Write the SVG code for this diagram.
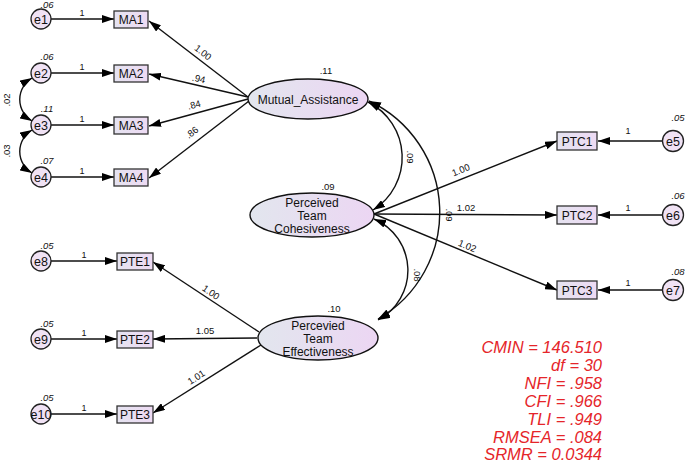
<svg xmlns="http://www.w3.org/2000/svg" width="685" height="464" viewBox="0 0 685 464">
<defs>
<linearGradient id="gEll" x1="0" y1="0" x2="1" y2="0">
<stop offset="0" stop-color="#e2e6ee"/>
<stop offset="1" stop-color="#ecd6f3"/>
</linearGradient>
<linearGradient id="gBox" x1="0" y1="0" x2="1" y2="0">
<stop offset="0" stop-color="#e5e3f0"/>
<stop offset="1" stop-color="#eddaf3"/>
</linearGradient>
<marker id="ah" viewBox="0 0 12 8" refX="12" refY="4" markerWidth="12" markerHeight="8" markerUnits="userSpaceOnUse" orient="auto-start-reverse">
<path d="M0,0 L12,4 L0,8 z" fill="#000"/>
</marker>
<style>
.t{font-family:"Liberation Sans",Arial,sans-serif;fill:#111}
.box{fill:url(#gBox);stroke:#333;stroke-width:1.3}
.ell{fill:url(#gEll);stroke:#111;stroke-width:1.4}
.cir{fill:#f0e2f4;stroke:#222;stroke-width:1.3}
.lbl{font-size:12px;text-anchor:middle}
.el{font-size:12.5px;text-anchor:middle}
.var{font-size:9.5px;font-style:italic;text-anchor:middle}
.one{font-size:9px;text-anchor:middle}
.w{font-size:9.5px;text-anchor:middle}
.ln{stroke:#111;stroke-width:1.4;fill:none}
.fit{font-family:"Liberation Sans",Arial,sans-serif;font-size:16.5px;font-style:italic;fill:#e5252a;text-anchor:end}
</style>
</defs>
<rect width="685" height="464" fill="#fff"/>

<g id="connectors">
<!-- error to indicator -->
<line class="ln" x1="51" y1="19" x2="114" y2="19" marker-end="url(#ah)"/>
<line class="ln" x1="51" y1="73" x2="114" y2="73" marker-end="url(#ah)"/>
<line class="ln" x1="51" y1="125" x2="114" y2="125" marker-end="url(#ah)"/>
<line class="ln" x1="51" y1="177" x2="114" y2="177" marker-end="url(#ah)"/>
<line class="ln" x1="51" y1="261" x2="117" y2="261" marker-end="url(#ah)"/>
<line class="ln" x1="51" y1="339" x2="117" y2="339" marker-end="url(#ah)"/>
<line class="ln" x1="51" y1="414" x2="117" y2="414" marker-end="url(#ah)"/>
<line class="ln" x1="663" y1="141" x2="598" y2="141" marker-end="url(#ah)"/>
<line class="ln" x1="663" y1="215" x2="598" y2="215" marker-end="url(#ah)"/>
<line class="ln" x1="663" y1="290" x2="598" y2="290" marker-end="url(#ah)"/>
<!-- loadings -->
<line class="ln" x1="248" y1="97" x2="149" y2="21" marker-end="url(#ah)"/>
<line class="ln" x1="248" y1="97" x2="149" y2="74" marker-end="url(#ah)"/>
<line class="ln" x1="248" y1="99" x2="149" y2="126" marker-end="url(#ah)"/>
<line class="ln" x1="249" y1="101" x2="149" y2="178" marker-end="url(#ah)"/>
<line class="ln" x1="374" y1="214" x2="557" y2="141" marker-end="url(#ah)"/>
<line class="ln" x1="374" y1="214" x2="557" y2="215" marker-end="url(#ah)"/>
<line class="ln" x1="374" y1="214" x2="557" y2="290" marker-end="url(#ah)"/>
<line class="ln" x1="259" y1="332" x2="153" y2="262" marker-end="url(#ah)"/>
<line class="ln" x1="257" y1="338" x2="153" y2="339" marker-end="url(#ah)"/>
<line class="ln" x1="261" y1="345" x2="153" y2="413" marker-end="url(#ah)"/>
<!-- covariances -->
<path class="ln" d="M32,78 A25,25 0 0 0 32,121" marker-start="url(#ah)" marker-end="url(#ah)"/>
<path class="ln" d="M32,130 A25,25 0 0 0 32,173" marker-start="url(#ah)" marker-end="url(#ah)"/>
<path class="ln" d="M368,102 A62,62 0 0 1 373,210" marker-start="url(#ah)" marker-end="url(#ah)"/>
<path class="ln" d="M369,101 A123,123 0 0 1 378,319" marker-start="url(#ah)" marker-end="url(#ah)"/>
<path class="ln" d="M374,219 A56,56 0 0 1 378,320" marker-start="url(#ah)" marker-end="url(#ah)"/>
<!-- labels -->
<text class="t one" x="82" y="16">1</text>
<text class="t one" x="82" y="70">1</text>
<text class="t one" x="82" y="122">1</text>
<text class="t one" x="82" y="174">1</text>
<text class="t one" x="84" y="258">1</text>
<text class="t one" x="84" y="336">1</text>
<text class="t one" x="84" y="411">1</text>
<text class="t one" x="628" y="134">1</text>
<text class="t one" x="628" y="211">1</text>
<text class="t one" x="628" y="286">1</text>
<text class="t w" transform="translate(201,55) rotate(38)">1.00</text>
<text class="t w" transform="translate(198,82) rotate(13)">.94</text>
<text class="t w" transform="translate(195,108) rotate(-15)">.84</text>
<text class="t w" transform="translate(194,135) rotate(-38)">.86</text>
<text class="t w" transform="translate(462,173) rotate(-22)">1.00</text>
<text class="t w" transform="translate(466,211)">1.02</text>
<text class="t w" transform="translate(466,249) rotate(22)">1.02</text>
<text class="t w" transform="translate(209,295) rotate(35)">1.00</text>
<text class="t w" transform="translate(205,334)">1.05</text>
<text class="t w" transform="translate(198,380) rotate(-33)">1.01</text>
<text class="t w" transform="translate(10,100) rotate(-90)">.02</text>
<text class="t w" transform="translate(10,151) rotate(-90)">.03</text>
<text class="t w" transform="translate(407,157) rotate(90)">.09</text>
<text class="t w" transform="translate(446,215) rotate(90)">.09</text>
<text class="t w" transform="translate(414,275) rotate(90)">.08</text>
</g>

<g id="e1"><circle class="cir" cx="41" cy="19" r="10"/><text class="t var" x="47" y="8">.06</text><text class="t el" x="41" y="23.5">e1</text></g>
<g id="e2"><circle class="cir" cx="41" cy="73" r="10"/><text class="t var" x="47" y="60">.06</text><text class="t el" x="41" y="77.5">e2</text></g>
<g id="e3"><circle class="cir" cx="41" cy="125" r="10"/><text class="t var" x="47" y="112">.11</text><text class="t el" x="41" y="129.5">e3</text></g>
<g id="e4"><circle class="cir" cx="41" cy="177" r="10"/><text class="t var" x="47" y="164">.07</text><text class="t el" x="41" y="181.5">e4</text></g>
<g id="e8"><circle class="cir" cx="41" cy="261" r="10"/><text class="t var" x="47" y="249">.05</text><text class="t el" x="41" y="265.5">e8</text></g>
<g id="e9"><circle class="cir" cx="41" cy="339" r="10"/><text class="t var" x="47" y="327">.05</text><text class="t el" x="41" y="343.5">e9</text></g>
<g id="e10"><circle class="cir" cx="41" cy="414" r="10"/><text class="t var" x="47" y="401">.05</text><text class="t el" x="41" y="418.5">e10</text></g>
<g id="e5"><circle class="cir" cx="673" cy="141" r="10.5"/><text class="t var" x="678" y="121">.05</text><text class="t el" x="673" y="145.5">e5</text></g>
<g id="e6"><circle class="cir" cx="673" cy="215" r="10.5"/><text class="t var" x="678" y="199">.06</text><text class="t el" x="673" y="219.5">e6</text></g>
<g id="e7"><circle class="cir" cx="673" cy="290" r="10.5"/><text class="t var" x="678" y="275">.08</text><text class="t el" x="673" y="294.5">e7</text></g>

<g id="MA1"><rect class="box" x="114" y="11" width="34" height="17"/><text class="t lbl" x="131" y="23.5">MA1</text></g>
<g id="MA2"><rect class="box" x="114" y="65" width="34" height="17"/><text class="t lbl" x="131" y="77.5">MA2</text></g>
<g id="MA3"><rect class="box" x="114" y="117" width="34" height="17"/><text class="t lbl" x="131" y="129.5">MA3</text></g>
<g id="MA4"><rect class="box" x="114" y="169" width="34" height="17"/><text class="t lbl" x="131" y="181.5">MA4</text></g>
<g id="PTE1"><rect class="box" x="117" y="253" width="36" height="17"/><text class="t lbl" x="135" y="265.5">PTE1</text></g>
<g id="PTE2"><rect class="box" x="117" y="331" width="36" height="17"/><text class="t lbl" x="135" y="343.5">PTE2</text></g>
<g id="PTE3"><rect class="box" x="117" y="406" width="36" height="17"/><text class="t lbl" x="135" y="418.5">PTE3</text></g>
<g id="PTC1"><rect class="box" x="557" y="132" width="40" height="18"/><text class="t lbl" x="577" y="145.5">PTC1</text></g>
<g id="PTC2"><rect class="box" x="557" y="206" width="40" height="18"/><text class="t lbl" x="577" y="219.5">PTC2</text></g>
<g id="PTC3"><rect class="box" x="557" y="281" width="40" height="18"/><text class="t lbl" x="577" y="294.5">PTC3</text></g>

<g id="Mutual_Assistance"><ellipse class="ell" cx="308" cy="99" rx="60" ry="20"/><text class="t var" x="326" y="74" style="font-style:normal">.11</text><text class="t lbl" x="308" y="103.5">Mutual_Assistance</text></g>
<g id="Perceived_Team_Cohesiveness"><ellipse class="ell" cx="312" cy="215" rx="62" ry="22"/><text class="t var" x="328" y="190" style="font-style:normal">.09</text><text class="t lbl" x="312" y="207">Perceived</text><text class="t lbl" x="312" y="220">Team</text><text class="t lbl" x="312" y="233">Cohesiveness</text></g>
<g id="Percevied_Team_Effectiveness"><ellipse class="ell" cx="318" cy="338" rx="60" ry="22"/><text class="t var" x="334" y="312" style="font-style:normal">.10</text><text class="t lbl" x="318" y="330">Percevied</text><text class="t lbl" x="318" y="343">Team</text><text class="t lbl" x="318" y="356">Effectiveness</text></g>

<g id="fit">
<text class="fit" x="602" y="353">CMIN = 146.510</text>
<text class="fit" x="602" y="371">df = 30</text>
<text class="fit" x="602" y="389">NFI = .958</text>
<text class="fit" x="602" y="407">CFI = .966</text>
<text class="fit" x="602" y="425">TLI = .949</text>
<text class="fit" x="602" y="443">RMSEA = .084</text>
<text class="fit" x="602" y="460">SRMR = 0.0344</text>
</g>
</svg>
